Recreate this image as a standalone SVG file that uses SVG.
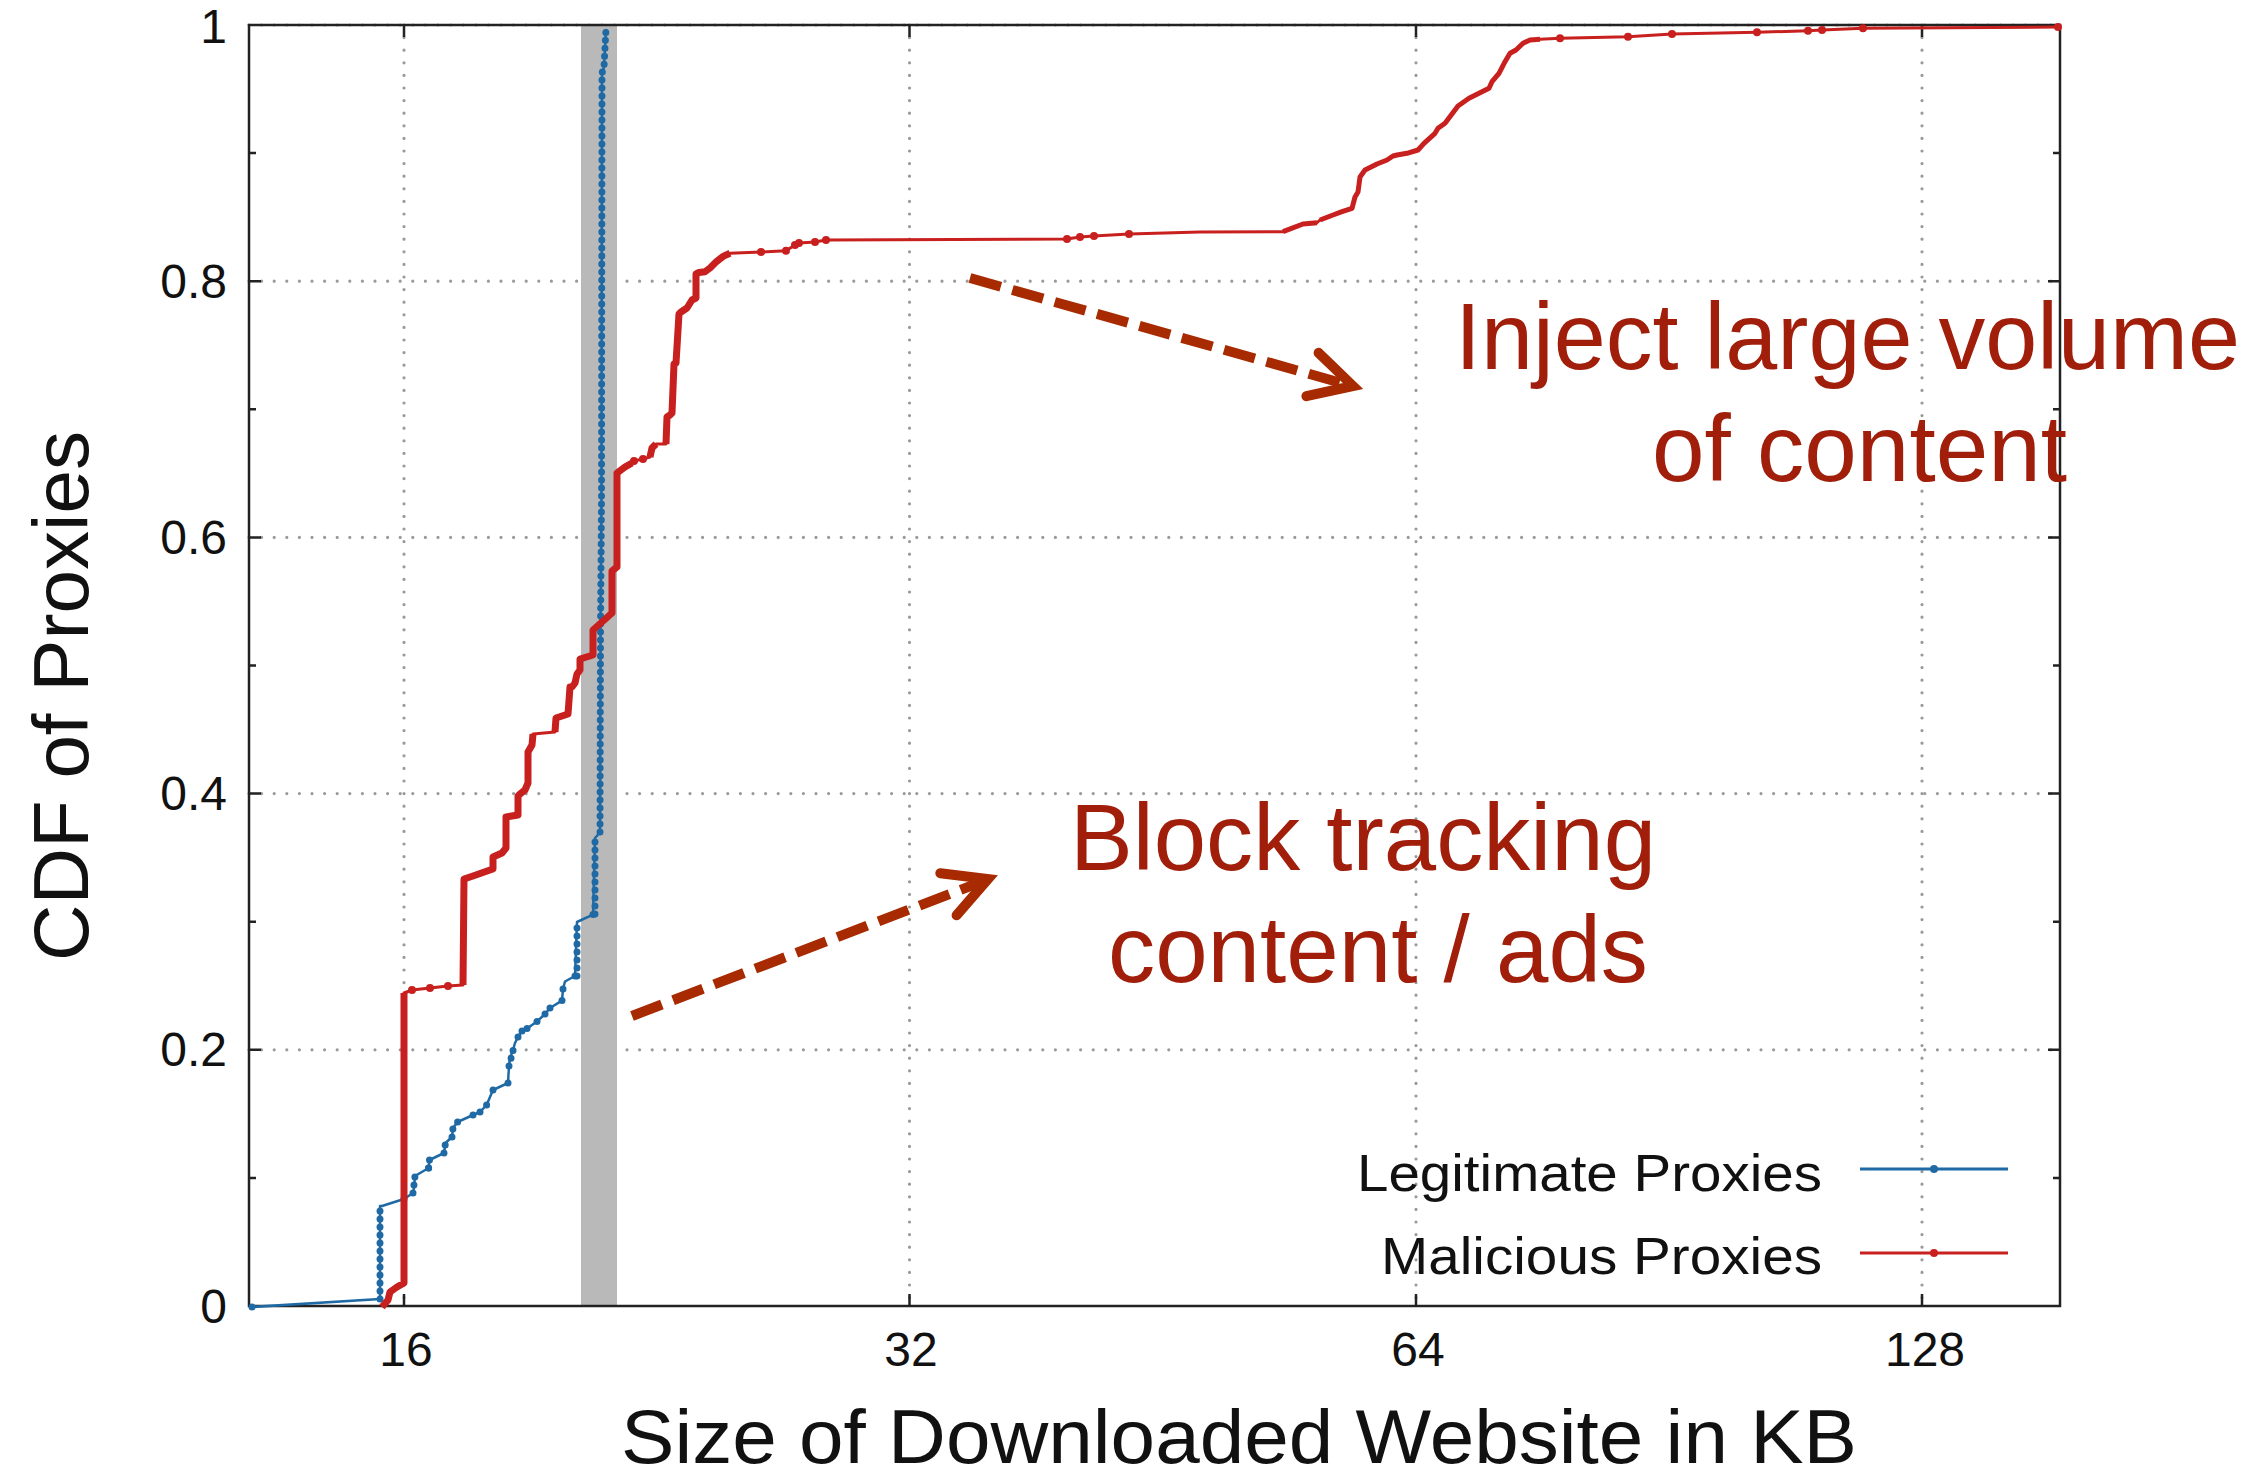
<svg xmlns="http://www.w3.org/2000/svg" width="2266" height="1480" viewBox="0 0 2266 1480">
<style>
text{font-family:"Liberation Sans",Arial,Helvetica,sans-serif;}
.tick{font-size:48px;fill:#111;}
.lab{font-size:78px;fill:#111;}
.leg{font-size:52px;fill:#111;}
.ann{font-size:95px;fill:#a01e0a;}
.grid{stroke:#9a9a9a;stroke-width:3.2;stroke-dasharray:0 12.6;stroke-linecap:round;fill:none;}
.ax{stroke:#222;stroke-width:2.5;fill:none;}
.blue{stroke:#1f6aa5;fill:none;stroke-linejoin:round;}
.red{stroke:#c8201e;fill:none;stroke-linejoin:round;}
.bdots{stroke:#1f6aa5;stroke-width:7;stroke-linecap:round;stroke-dasharray:0 8;fill:none;}
.arr{stroke:#a82a00;stroke-width:10;fill:none;}
</style>
<rect width="2266" height="1480" fill="#fff"/>
<g id="grid">
<path class="grid" d="M249,1049.8H2060M249,793.6H2060M249,537.4H2060M249,281.2H2060M249,25H2060"/>
<path class="grid" d="M404,25V1306M909.5,25V1306M1416,25V1306M1922,25V1306"/>
</g>
<rect id="band" x="581" y="25" width="36" height="1281" fill="#b9b9b9"/>
<g id="axes">
<rect class="ax" x="249" y="25" width="1811" height="1281"/>
<path class="ax" d="M249,1049.8h12M249,793.6h12M249,537.4h12M249,281.2h12M249,1177.9h7M249,921.7h7M249,665.5h7M249,409.3h7M249,153.1h7M2060,1049.8h-12M2060,793.6h-12M2060,537.4h-12M2060,281.2h-12M2060,1177.9h-7M2060,921.7h-7M2060,665.5h-7M2060,409.3h-7M2060,153.1h-7M404,1306v-12M909.5,1306v-12M1416,1306v-12M1922,1306v-12M404,25v12M909.5,25v12M1416,25v12M1922,25v12"/>
</g>
<g id="ytick-labels" class="tick" text-anchor="end">
<text x="227" y="43">1</text>
<text x="227" y="298">0.8</text>
<text x="227" y="554">0.6</text>
<text x="227" y="810">0.4</text>
<text x="227" y="1066">0.2</text>
<text x="227" y="1323">0</text>
</g>
<g id="xtick-labels" class="tick" text-anchor="middle">
<text x="406" y="1366">16</text>
<text x="911" y="1366">32</text>
<text x="1418" y="1366">64</text>
<text x="1925" y="1366">128</text>
</g>
<text id="xlabel" class="lab" style="font-size:76px" x="1239" y="1463" text-anchor="middle" textLength="1236" lengthAdjust="spacingAndGlyphs">Size of Downloaded Website in KB</text>
<text id="ylabel" class="lab" transform="translate(88,696) rotate(-90)" x="0" y="0" text-anchor="middle" textLength="530" lengthAdjust="spacingAndGlyphs">CDF of Proxies</text>
<g id="legitimate-curve">
<path class="blue" stroke-width="2.5" d="M252,1307 L380,1299 L380,1206 L382,1206 L404,1199 L413,1193 L414,1188 L415,1176 L428.6,1168 L429.5,1160 L444,1153 L445.5,1143 L452,1137 L453,1128 L457.6,1122 L473,1115 L480,1112 L486.6,1105 L493,1090 L508,1083 L509,1066 L510,1058 L513,1050 L515,1043 L518,1037 L522,1031 L527,1028.5 L537,1021.5 L545,1014 L550,1008 L562,1000.6 L563,989 L565,981.5 L575,976 L577,922 L593,914.6 L595,838 L600,832.5 L600.5,630 L601.5,500 L602,73 L604,67 L606,29"/>
<path class="bdots" d="M380,1299 L380,1206 M577,976 L577,922 M595,914 L595,838 M600,832 L600.5,630 L601.5,500 L602,73 L604,67 L606,29 M413,1193 L415,1176 M428.6,1168 L429.5,1160 M444,1153 L445.5,1143 M452,1137 L453,1128 M509,1066 L515,1043 M563,989 L565,981.5"/>
<g fill="#1f6aa5">
<circle cx="252" cy="1307" r="3.5"/><circle cx="404" cy="1199" r="3.5"/><circle cx="428.6" cy="1168" r="3.5"/><circle cx="457.6" cy="1122" r="3.5"/><circle cx="473" cy="1115" r="3.5"/><circle cx="480" cy="1112" r="3.5"/><circle cx="486.6" cy="1105" r="3.5"/><circle cx="493" cy="1090" r="3.5"/><circle cx="508" cy="1083" r="3.5"/><circle cx="518" cy="1037" r="3.5"/><circle cx="522" cy="1031" r="3.5"/><circle cx="527" cy="1028.5" r="3.5"/><circle cx="537" cy="1021.5" r="3.5"/><circle cx="545" cy="1014" r="3.5"/><circle cx="550" cy="1008" r="3.5"/><circle cx="562" cy="1000.6" r="3.5"/><circle cx="575" cy="976" r="3.5"/><circle cx="593" cy="914.6" r="3.5"/>
</g>
</g>
<g id="malicious-curve">
<path class="red" stroke-width="3" d="M382,1307 L388,1300 L390,1292 L397,1287 L404,1283 L404,993 L412,990 L430,988 L448,986 L463,985 L464,879 L473,876 L490,870 L493,869 L493,857 L502,853 L506,848 L506,817 L518,815 L518,796 L520,794 L525,790 L528,783 L528,752 L532,745 L533,734 L555,732 L556,718 L568,714 L570,687 L572,687 L575,683 L577,674 L580,670 L580,659 L593,655 L593,630 L602,622 L612,613 L612,571 L617,567 L617,473 L625,467 L632,463 L634,461 L643,459 L650,457 L652,448 L656,444 L666,444 L667,417 L670,415 L672,413 L674,364 L676,363 L679,314 L681,312 L687,308 L692,300 L696,298 L696,274 L699,272.5 L705,271.7 L710,268 L716,262 L723,256.4 L730,253.3 L761,252 L786,250.7 L795,245 L799,243 L815,242 L826,240 L1067,239 L1080,237 L1094,236 L1129,234 L1200,232 L1283,231.7 L1303,224 L1317,222.7 L1320,220 L1333,215 L1342,211.7 L1352,208.3 L1355,197 L1358,192 L1360,177 L1365,170 L1377,164 L1387,160 L1393,156 L1397,155 L1407,153.3 L1418,150 L1424,143.3 L1435,133.3 L1438,128.3 L1445,123.3 L1455,110 L1458,106 L1469,98.3 L1479,93.3 L1489,88.3 L1492,81.7 L1499,73.3 L1505,61.7 L1510,53.3 L1516,50 L1523,43.3 L1530,40 L1540,39.3 L1560,38.3 L1628,36.7 L1672,34 L1757,32.3 L1808,30.7 L1822,30 L1863,28.3 L2058,27"/>
<path class="red" stroke-width="7" d="M382,1307 L388,1300 L390,1292 L397,1287 L404,1283 L404,993 M463,985 L464,879 L473,876 L490,870 L493,869 L493,857 L502,853 L506,848 L506,817 L518,815 L518,796 L520,794 L525,790 L528,783 L528,752 L532,745 L533,734 M555,732 L556,718 L568,714 L570,687 L572,687 L575,683 L577,674 L580,670 L580,659 L593,655 L593,630 L602,622 L612,613 L612,571 L617,567 L617,473 L625,467 L632,463 M650,457 L652,448 L656,444 M666,444 L667,417 L670,415 L672,413 L674,364 L676,363 L679,314 L681,312 L687,308 L692,300 L696,298 L696,274 L699,272.5 L705,271.7 L710,268 L716,262 L723,256.4 L730,253.3"/>
<path class="red" stroke-width="5" d="M1283,231.7 L1303,224 L1317,222.7 M1320,220 L1333,215 L1342,211.7 L1352,208.3 L1355,197 L1358,192 L1360,177 L1365,170 L1377,164 L1387,160 L1393,156 L1397,155 L1407,153.3 L1418,150 L1424,143.3 L1435,133.3 L1438,128.3 L1445,123.3 L1455,110 L1458,106 L1469,98.3 L1479,93.3 L1489,88.3 L1492,81.7 L1499,73.3 L1505,61.7 L1510,53.3 L1516,50 L1523,43.3 L1530,40 L1540,39.3"/>
<g fill="#c8201e">
<circle cx="412" cy="990" r="4"/><circle cx="430" cy="988" r="4"/><circle cx="448" cy="986" r="4"/><circle cx="634" cy="461" r="4"/><circle cx="643" cy="459" r="4"/><circle cx="761" cy="252" r="4"/><circle cx="786" cy="250.7" r="4"/><circle cx="795" cy="245" r="4"/><circle cx="799" cy="243" r="4"/><circle cx="815" cy="242" r="4"/><circle cx="826" cy="240" r="4"/><circle cx="1067" cy="239" r="4"/><circle cx="1080" cy="237" r="4"/><circle cx="1094" cy="236" r="4"/><circle cx="1129" cy="234" r="4"/><circle cx="1560" cy="38.3" r="4"/><circle cx="1628" cy="36.7" r="4"/><circle cx="1672" cy="34" r="4"/><circle cx="1757" cy="32.3" r="4"/><circle cx="1808" cy="30.7" r="4"/><circle cx="1822" cy="30" r="4"/><circle cx="1863" cy="28.3" r="4"/><circle cx="2058" cy="27" r="4"/>
</g>
</g>
<g id="legend">
<text class="leg" x="1822" y="1191" text-anchor="end" textLength="465" lengthAdjust="spacingAndGlyphs">Legitimate Proxies</text>
<text class="leg" x="1822" y="1274" text-anchor="end" textLength="441" lengthAdjust="spacingAndGlyphs">Malicious Proxies</text>
<path class="blue" stroke-width="3" d="M1860,1169H2008"/>
<circle cx="1934" cy="1169" r="4" fill="#1f6aa5"/>
<path class="red" stroke-width="3" d="M1860,1253H2008"/>
<circle cx="1934" cy="1253" r="4" fill="#c8201e"/>
</g>
<g id="connectors">
<path class="arr" stroke-dasharray="32 12" d="M970,278 L1345,384"/>
<path class="arr" stroke-linecap="round" stroke-linejoin="miter" d="M1318.6,352.8 L1353,386 L1306.4,396.2"/>
<path class="arr" stroke-dasharray="32 12" d="M632,1016 L981,882"/>
<path class="arr" stroke-linecap="round" stroke-linejoin="miter" d="M940.3,873.2 L988,879 L956.6,915.3"/>
</g>
<g id="annotation-inject">
<text class="ann" x="1455" y="369" textLength="785" lengthAdjust="spacingAndGlyphs">Inject large volume</text>
<text class="ann" x="1652" y="481" textLength="415" lengthAdjust="spacingAndGlyphs">of content</text>
</g>
<g id="annotation-block">
<text class="ann" x="1070" y="870" textLength="586" lengthAdjust="spacingAndGlyphs">Block tracking</text>
<text class="ann" x="1108" y="982" textLength="540" lengthAdjust="spacingAndGlyphs">content / ads</text>
</g>
</svg>
